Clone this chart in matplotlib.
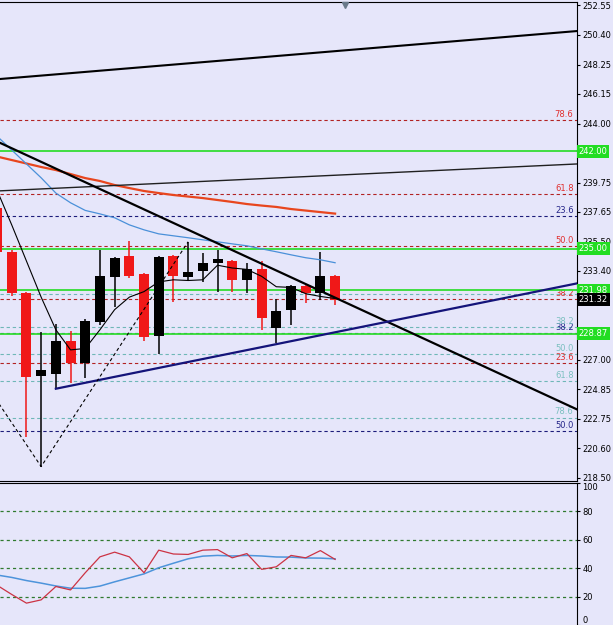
import matplotlib.pyplot as plt

# === Candles (daily) ===
opens  = [237.93, 234.77, 231.82, 225.84, 225.98, 228.36, 226.78, 229.73, 232.97, 234.48, 233.18, 228.72,
          234.48, 232.97, 233.40, 233.98, 234.12, 232.75, 233.55, 229.30, 230.57, 232.30, 231.80, 233.02]
highs  = [238.30, 234.90, 231.90, 229.01, 229.58, 229.08, 229.90, 234.91, 234.40, 235.56, 233.25, 234.50,
          234.55, 235.49, 234.70, 234.90, 234.20, 233.96, 234.10, 231.36, 232.40, 232.40, 234.75, 233.10]
lows   = [234.60, 231.60, 221.45, 219.29, 224.90, 225.34, 225.70, 229.50, 230.81, 232.90, 228.36, 227.42,
          231.17, 232.68, 232.61, 231.89, 231.87, 231.79, 229.13, 228.19, 229.49, 231.07, 231.29, 230.93]
closes = [234.77, 231.82, 225.77, 226.27, 228.36, 226.78, 229.80, 233.04, 234.34, 233.04, 228.65, 234.41,
          233.04, 233.33, 233.98, 234.26, 232.75, 233.55, 230.00, 230.50, 232.30, 231.80, 233.02, 231.32]

# === Moving averages ===
ma_fast = [239.2, 236.7, 234.1, 231.5, 229.15, 227.7, 227.8, 229.15, 230.6, 231.5, 231.9, 232.6,
           232.75, 232.7, 232.75, 233.8, 233.6, 233.5, 233.0, 232.25, 232.2, 231.75, 231.55, 231.4]
ma_mid  = [243.1, 242.1, 241.1, 240.1, 239.0, 238.3, 237.75, 237.5, 237.22, 236.71, 236.35, 236.06,
           235.92, 235.78, 235.63, 235.49, 235.34, 235.20, 234.98, 234.77, 234.55, 234.34, 234.19, 233.98]
ma_slow = [241.63, 241.38, 241.13, 240.88, 240.66, 240.37, 240.08, 239.87, 239.58, 239.36, 239.15, 239.00,
           238.86, 238.75, 238.64, 238.50, 238.36, 238.21, 238.10, 238.00, 237.85, 237.74, 237.63, 237.52]

# === Oscillator panel ===
osc_main   = [28, 21.5, 15.4, 17.7, 27.1, 24.7, 36.8, 48.0, 51.3, 48.0, 36.8, 52.7,
              50.0, 49.7, 52.7, 53.1, 47.3, 50.3, 39.2, 41.0, 49.0, 47.3, 52.4, 46.2]
osc_signal = [35.2, 33.5, 31.3, 29.5, 27.5, 25.9, 25.8, 27.4, 30.4, 33.2, 36.0, 40.3,
              43.5, 46.6, 48.5, 49.0, 48.6, 49.0, 48.6, 47.9, 47.8, 47.2, 47.1, 46.6]
osc_levels = [20, 40, 60, 80]
osc_ticks = [0, 20, 40, 60, 80, 100]

# === Drawn objects ===
green_levels = [242.00, 235.00, 231.98, 228.87]
last_price = 231.32

fib_red = [244.27, 238.94, 235.20, 231.38, 226.78]
fib_red_labels = ["78.6", "61.8", "50.0", "38.2", "23.6"]
fib_navy = [237.36, 228.94, 221.88]
fib_navy_labels = ["23.6", "38.2", "50.0"]
fib_teal = [231.75, 229.37, 227.42, 225.48, 222.82]
fib_teal_labels = ["", "38.2", "50.0", "61.8", "78.6"]

trend_top = [(0.2, 247.22), (39.5, 250.68)]
trend_mid = [(0.2, 239.16), (39.5, 241.10)]
trend_down = [(0.2, 242.62), (39.5, 223.39)]
trend_up = [(4, 224.90), (39.5, 232.50)]
zigzag_x = [-1, 3, 13]
zigzag_y = [225.6, 219.29, 235.49]

# ticks hidden behind the level boxes keep an empty label
price_ticks = [252.55, 250.40, 248.25, 246.15, 244.00, 241.90, 239.75, 237.65, 235.50,
               233.40, 231.25, 229.15, 227.00, 224.85, 222.75, 220.60, 218.50]
price_tick_labels = ["252.55", "250.40", "248.25", "246.15", "244.00", "", "239.75", "237.65", "235.50",
                     "233.40", "", "", "227.00", "224.85", "222.75", "220.60", "218.50"]

# === Farben ===
bg = "#e6e6fa"
red = "#f01818"
green = "#33dd33"
x = list(range(len(opens)))

fig = plt.figure(figsize=(6.13, 6.25), dpi=100, facecolor=bg)
W, H = 613, 625
ax = fig.add_axes([0, 1 - 481 / H, 577 / W, 479 / H], facecolor=bg)
ax2 = fig.add_axes([0, 0, 577 / W, 142 / H], facecolor=bg)

ax.set_xlim(0.2, 39.46)
ax.set_ylim(218.25, 252.77)
ax2.set_xlim(0.2, 39.46)
ax2.set_ylim(0.5, 100)

ytr = ax.get_yaxis_transform()

# === Fibonacci levels (dashed) ===
for levels, labels, col, tcol in [(fib_red, fib_red_labels, "#b22222", "#e03030"),
                                  (fib_navy, fib_navy_labels, "#1c1c7a", "#26268a"),
                                  (fib_teal, fib_teal_labels, "#6fb7b7", "#7cc0c0")]:
    for lvl, lab in zip(levels, labels):
        ax.axhline(lvl, color=col, lw=0.8, dashes=(3, 2.5), zorder=1)
        if lab:
            ax.text(0.994, lvl + 0.08, lab, transform=ytr, ha="right", va="bottom",
                    fontsize=6, color=tcol, zorder=2)

# === Green horizontal levels ===
for lvl in green_levels:
    ax.axhline(lvl, color=green, lw=1.3, zorder=2)

# === Candles ===
for i in x:
    o, h, l, c = opens[i], highs[i], lows[i], closes[i]
    col = red if c < o else "black"
    ax.vlines(i, l, h, color=col, lw=1.1, zorder=3)
    ax.bar(i, max(abs(c - o), 0.12), bottom=min(o, c), width=0.68, color=col, zorder=3)

# === Moving averages ===
ax.plot(x, ma_slow, color="#e8461e", lw=1.6, zorder=4)
ax.plot(x, ma_mid, color="#4a90d9", lw=0.9, zorder=4)
ax.plot(x, ma_fast, color="black", lw=0.8, zorder=4)

# === Trend lines ===
ax.axline(*trend_top, color="black", lw=1.5, zorder=5)
ax.axline(*trend_mid, color="#202020", lw=1.0, zorder=5)
ax.axline(*trend_down, color="black", lw=1.6, zorder=5)
ax.plot([p[0] for p in trend_up], [p[1] for p in trend_up], color="#14147a", lw=1.6, zorder=5)
ax.plot(zigzag_x, zigzag_y, color="black", lw=0.8, dashes=(3, 2.5), zorder=5)

# chart-shift marker oben
ax.plot([345 / 577], [0.994], marker="v", color="#6a7a8a", ms=5, transform=ax.transAxes,
        clip_on=False, zorder=6)

# === Price axis ===
ax.yaxis.tick_right()
ax.set_yticks(price_ticks)
ax.set_yticklabels(price_tick_labels)
ax.tick_params(axis="y", length=2.5, pad=1.5, labelsize=6, width=0.8)
ax.set_xticks([])
ax.spines["left"].set_visible(False)

for lvl in green_levels:
    ax.text(1.003, lvl, f"{lvl:.2f}", transform=ytr, ha="left", va="center", fontsize=6,
            color="white", clip_on=False, zorder=10,
            bbox=dict(boxstyle="square,pad=0.22", fc="#22dd22", ec="none"))
ax.text(1.003, last_price, f"{last_price:.2f}", transform=ytr, ha="left", va="center", fontsize=6,
        color="white", clip_on=False, zorder=10,
        bbox=dict(boxstyle="square,pad=0.22", fc="black", ec="none"))

# === Oscillator ===
for lvl in osc_levels:
    ax2.axhline(lvl, color="#2f7a2f", lw=0.9, dashes=(2.5, 2.5), zorder=1)
ax2.plot(x, osc_signal, color="#4d94db", lw=1.1, zorder=3)
ax2.plot(x, osc_main, color="#cc3344", lw=0.9, zorder=4)

ax2.yaxis.tick_right()
ax2.set_yticks(osc_ticks)
ax2.set_yticklabels([str(t) for t in osc_ticks])
ax2.tick_params(axis="y", length=2.5, pad=1.5, labelsize=6, width=0.8)
ticklabels = ax2.get_yticklabels()
ticklabels[0].set_va("bottom")
ticklabels[-1].set_va("top")
ax2.set_xticks([])
ax2.spines["left"].set_visible(False)
ax2.spines["bottom"].set_visible(False)

plt.savefig("out.png", dpi=100, facecolor=bg)
